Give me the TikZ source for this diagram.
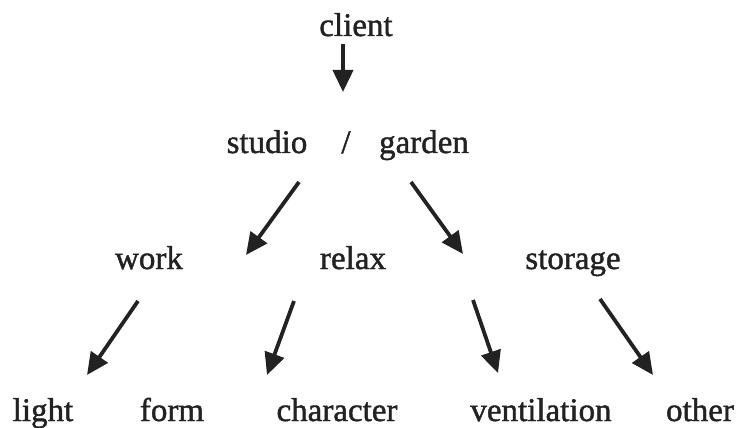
\documentclass[tikz,border=0pt]{standalone}
\usepackage{fontspec}
\setmainfont{Liberation Serif}
\newfontfamily\inkfont[FakeBold=1.3]{Liberation Serif}
\usetikzlibrary{arrows.meta}
\definecolor{ink}{HTML}{222222}
\begin{document}
\begin{tikzpicture}[x=1pt,y=-1pt,
  lbl/.style={anchor=base,inner sep=0pt,text=ink,font=\inkfont\fontsize{33}{36}\selectfont},
  arr/.style={draw=ink,line width=3.8pt,-{Triangle[length=22pt,width=20pt]}}]
\useasboundingbox (0,0) rectangle (737,428);
\node[lbl] (client) at (356,36) {client};
\node[lbl] (studio) at (267,153) {studio};
\node[lbl] (slash) at (346,153) {/};
\node[lbl] (garden) at (424,153) {garden};
\node[lbl] (work) at (149,269) {work};
\node[lbl] (relax) at (353,269) {relax};
\node[lbl] (storage) at (573,269) {storage};
\node[lbl] (light) at (43,421) {light};
\node[lbl] (form) at (172,421) {form};
\node[lbl] (character) at (337,421) {character};
\node[lbl] (ventilation) at (541,421) {ventilation};
\node[lbl] (other) at (700,421) {other};
\draw[arr] ([shift={(-13,8)}]client.base) -- ([shift={(-3,-61)}]slash.base);
\draw[arr] ([shift={(32,29)}]studio.base) -- ([shift={(97,-14)}]work.base);
\draw[arr] ([shift={(-13,29)}]garden.base) -- ([shift={(-110,-15)}]storage.base);
\draw[arr] ([shift={(-11,32)}]work.base) -- ([shift={(44,-46)}]light.base);
\draw[arr] ([shift={(-59,32)}]relax.base) -- ([shift={(-70,-46)}]character.base);
\draw[arr] ([shift={(-100,31)}]storage.base) -- ([shift={(-43,-48)}]ventilation.base);
\draw[arr] ([shift={(27,30)}]storage.base) -- ([shift={(-47,-46)}]other.base);
\end{tikzpicture}
\end{document}
